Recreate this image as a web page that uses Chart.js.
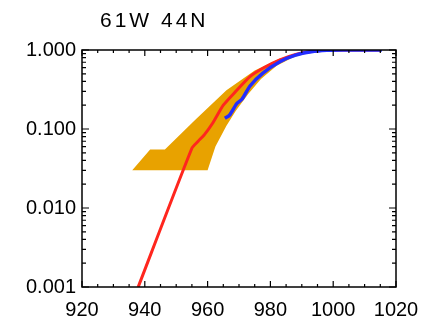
<!DOCTYPE html>
<html>
<head>
<meta charset="utf-8">
<script src="https://cdn.jsdelivr.net/npm/chart.js@4/dist/chart.umd.min.js"></script>
<style>
html,body{margin:0;padding:0;background:#fff;}
#wrap{width:439px;height:322px;position:relative;}
</style>
</head>
<body>
<div id="wrap"><canvas id="c" width="439" height="322"></canvas></div>
<script>
// ---- data ----
const titleText = "61W 44N";
const xTickValues = [920, 940, 960, 980, 1000, 1020];
const yTickValues = [0.001, 0.01, 0.1, 1];
const yTickLabels = ["0.001", "0.010", "0.100", "1.000"];

// red curve
const redX = [937.9, 955, 957, 959, 961.7, 965, 969, 973.5, 978, 983, 988, 993, 998, 1003, 1015];
const redY = [0.001, 0.057, 0.07, 0.085, 0.12, 0.2, 0.3, 0.46, 0.6, 0.75, 0.88, 0.96, 0.99, 1.0, 1.0];

// blue curve
const blueX = [965.5, 967, 969.3, 971, 973.5, 977.6, 983, 988, 993, 998, 1003, 1015.5];
const blueY = [0.137, 0.15, 0.21, 0.24, 0.35, 0.51, 0.71, 0.86, 0.95, 0.99, 1.0, 1.0];

// orange envelope outline (closed polygon)
const bandX = [936, 941.7, 946.4, 956, 966, 975, 983, 990, 996, 1002, 997, 992, 987, 982, 977, 973, 969, 966, 962.5, 960, 936];
const bandY = [0.03, 0.055, 0.055, 0.13, 0.31, 0.55, 0.78, 0.93, 0.99, 1.0, 0.98, 0.92, 0.8, 0.63, 0.43, 0.28, 0.17, 0.11, 0.06, 0.03, 0.03];

const toPts = (xs, ys) => xs.map((x, i) => ({x: x, y: ys[i]}));

const FONT = "'Liberation Sans', Arial, Helvetica, sans-serif";

const framePlugin = {
  id: 'frame',
  afterDraw(chart) {
    const ctx = chart.ctx;
    const a = chart.chartArea;
    const xs = chart.scales.x, ys = chart.scales.y;
    ctx.save();
    ctx.strokeStyle = '#000';
    ctx.lineWidth = 1.5;
    ctx.strokeRect(a.left, a.top, a.right - a.left, a.bottom - a.top);
    ctx.lineWidth = 1.2;
    ctx.beginPath();
    for (let v = 920; v <= 1020; v += 5) {
      const px = xs.getPixelForValue(v);
      const len = (v % 20 === 0) ? 6 : 3;
      ctx.moveTo(px, a.bottom); ctx.lineTo(px, a.bottom - len);
      ctx.moveTo(px, a.top); ctx.lineTo(px, a.top + len);
    }
    for (let d = -3; d <= 0; d++) {
      for (let m = 1; m <= 9; m++) {
        const v = m * Math.pow(10, d);
        if (v > 1.0001) break;
        const py = ys.getPixelForValue(v);
        const len = (m === 1) ? 7 : 4;
        ctx.moveTo(a.left, py); ctx.lineTo(a.left + len, py);
        ctx.moveTo(a.right, py); ctx.lineTo(a.right - len, py);
      }
    }
    ctx.stroke();
    // title
    ctx.fillStyle = '#000';
    ctx.font = "21px " + FONT;
    try { ctx.letterSpacing = '3px'; } catch (e) {}
    ctx.textBaseline = 'alphabetic';
    ctx.textAlign = 'left';
    ctx.fillText(titleText, 100, 27);
    ctx.restore();
  }
};

new Chart(document.getElementById('c'), {
  type: 'scatter',
  data: {
    datasets: [
      {
        data: toPts(bandX, bandY),
        order: 3,
        showLine: true,
        borderWidth: 0,
        borderColor: 'rgba(0,0,0,0)',
        backgroundColor: 'rgb(232,162,0)',
        fill: 'shape',
        pointRadius: 0,
        tension: 0
      },
      {
        data: toPts(redX, redY),
        order: 2,
        showLine: true,
        borderColor: 'rgb(255,38,30)',
        borderWidth: 3,
        pointRadius: 0,
        fill: false,
        tension: 0.2
      },
      {
        data: toPts(blueX, blueY),
        order: 1,
        showLine: true,
        borderColor: 'rgb(35,45,255)',
        borderWidth: 3.5,
        pointRadius: 0,
        fill: false,
        tension: 0.2
      }
    ]
  },
  options: {
    responsive: false,
    animation: false,
    devicePixelRatio: 1,
    layout: { padding: { left: 0, right: 43, top: 50, bottom: 0 } },
    plugins: { legend: { display: false }, tooltip: { enabled: false }, title: { display: false } },
    scales: {
      x: {
        type: 'linear',
        min: 920, max: 1020,
        afterBuildTicks(scale) { scale.ticks = xTickValues.map(v => ({value: v})); },
        afterFit(scale) { scale.height = 35; },
        grid: { display: false, drawTicks: false },
        border: { display: false },
        ticks: {
          padding: 11,
          color: '#000',
          font: { family: FONT, size: 20 },
          maxRotation: 0,
          autoSkip: false,
          callback: (v) => String(v)
        }
      },
      y: {
        type: 'logarithmic',
        min: 0.001, max: 1,
        afterBuildTicks(scale) { scale.ticks = yTickValues.map(v => ({value: v})); },
        afterFit(scale) { scale.width = 82; },
        grid: { display: false, drawTicks: false },
        border: { display: false },
        ticks: {
          padding: 6,
          color: '#000',
          font: { family: FONT, size: 20 },
          autoSkip: false,
          callback: (v) => {
            const i = yTickValues.findIndex(t => Math.abs(t - v) / t < 1e-6);
            return i >= 0 ? yTickLabels[i] : '';
          }
        }
      }
    }
  },
  plugins: [framePlugin]
});
</script>
</body>
</html>
